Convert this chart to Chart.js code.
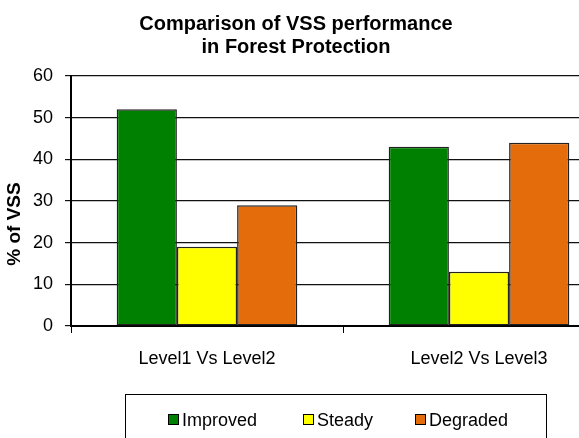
<!DOCTYPE html>
<html>
<head>
<meta charset="utf-8">
<script src="https://cdn.jsdelivr.net/npm/chart.js@4"></script>
<style>
  body { margin: 0; background: #fff; }
  #wrap { width: 579px; height: 438px; overflow: hidden; position: relative; }
  #vssChart { display: block; }
</style>
</head>
<body>
<div id="wrap">
  <canvas id="vssChart" width="640" height="438"></canvas>
</div>
<script>
  const categories = ['Level1 Vs Level2', 'Level2 Vs Level3'];
  const improved = [52, 43];
  const steady = [19, 13];
  const degraded = [29, 44];
  const yTicks = [0, 10, 20, 30, 40, 50, 60];

  const FONT = '"Liberation Sans", Arial, sans-serif';

  /*
   * title, y axis title and boxed legend
   */
  const decor = {
    id: 'decor',
    afterDraw(chart) {
      const ctx = chart.ctx;
      ctx.save();
      ctx.fillStyle = '#000';
      ctx.textAlign = 'center';
      ctx.textBaseline = 'middle';
      ctx.font = 'bold 20px ' + FONT;
      ctx.fillText('Comparison of VSS performance', 296, 24);
      ctx.fillText('in Forest Protection', 296, 47);

      ctx.save();
      ctx.translate(15, 224);
      ctx.rotate(-Math.PI / 2);
      ctx.font = 'bold 19px ' + FONT;
      ctx.fillText('% of VSS', 0, 0);
      ctx.restore();

      // legend box
      ctx.strokeStyle = '#000';
      ctx.lineWidth = 1;
      ctx.strokeRect(125.5, 394.5, 421, 80);
      const xs = [168, 303, 415];
      ctx.font = '18px ' + FONT;
      ctx.textAlign = 'left';
      chart.data.datasets.forEach((ds, i) => {
        ctx.fillStyle = ds.backgroundColor;
        ctx.fillRect(xs[i], 414, 11, 11);
        ctx.strokeStyle = '#000';
        ctx.strokeRect(xs[i] + 0.5, 414.5, 10, 10);
        ctx.fillStyle = '#000';
        ctx.fillText(ds.label, xs[i] + 14, 421);
      });
      ctx.restore();
    }
  };

  const data_bar = {
    labels: categories,
    datasets: [
      { label: 'Improved', data: improved, backgroundColor: '#008000' },
      { label: 'Steady', data: steady, backgroundColor: '#FFFF00' },
      { label: 'Degraded', data: degraded, backgroundColor: '#E46C0A' }
    ].map(d => Object.assign(d, {
      borderColor: '#222',
      borderWidth: 1.5,
      borderSkipped: false,
      categoryPercentage: 0.664,
      barPercentage: 1.0
    }))
  };

  const config_bar = {
    type: 'bar',
    data: data_bar,
    plugins: [decor],
    options: {
      responsive: false,
      animation: false,
      layout: { padding: { top: 76, right: 25, bottom: 72, left: 0 } },
      plugins: {
        legend: { display: false },
        title: { display: false },
        tooltip: { enabled: false }
      },
      scales: {
        x: {
          offset: true,
          afterFit(scale) { scale.height = 40; },
          grid: {
            offset: true,
            drawOnChartArea: false,
            color: '#000',
            tickLength: 7
          },
          border: { color: '#000', width: 2 },
          ticks: { color: '#000', padding: 15, font: { family: FONT, size: 18 } }
        },
        y: {
          min: 0,
          max: 60,
          afterFit(scale) { scale.width = 71; },
          afterBuildTicks(scale) { scale.ticks = yTicks.map(v => ({ value: v })); },
          grid: { color: '#111', lineWidth: 1.2, tickLength: 6 },
          border: { color: '#000', width: 2 },
          ticks: { color: '#000', padding: 12, font: { family: FONT, size: 18 } }
        }
      }
    }
  };

  const chart_bar = new Chart(
    document.getElementById('vssChart').getContext('2d'),
    config_bar
  );
</script>
</body>
</html>
